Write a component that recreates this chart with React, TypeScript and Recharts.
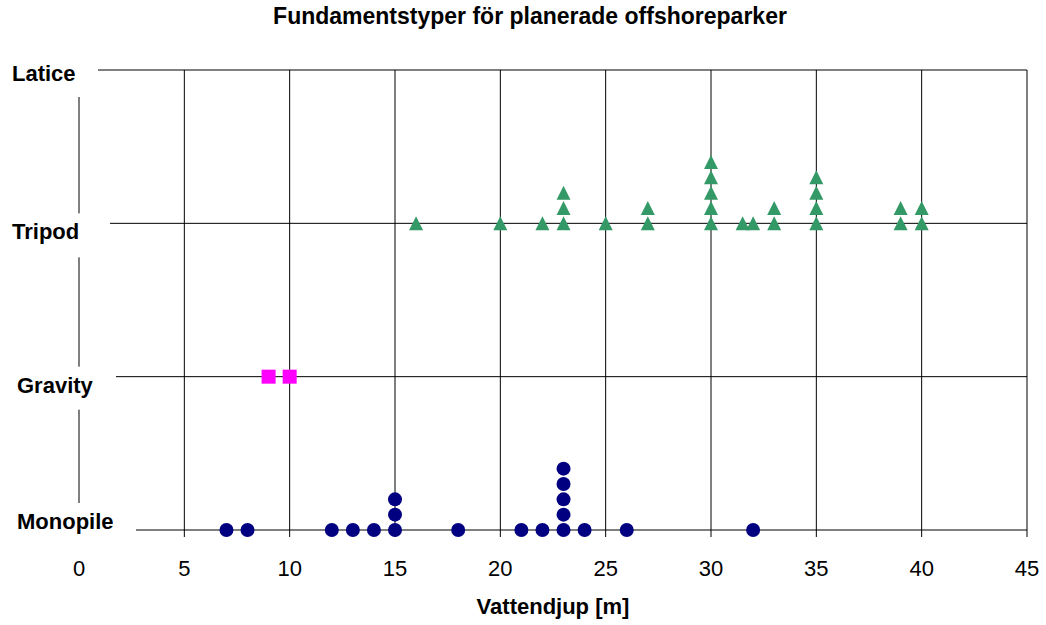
import { ScatterChart, Scatter, XAxis, YAxis, CartesianGrid } from 'recharts';

// Foundation type levels on the y axis (bottom to top)
const levelLabels = ['Monopile', 'Gravity', 'Tripod', 'Latice'];
const levelTicks = [0, 1, 2, 3];
const depthTicks = [0, 5, 10, 15, 20, 25, 30, 35, 40, 45];

// Water depth per planned park; repeated depths are stacked 0.1 apart
const monopileDepth = [7, 8, 12, 13, 14, 15, 15, 15, 18, 21, 22, 23, 23, 23, 23, 23, 24, 26, 32];
const monopileLevel = [0, 0, 0, 0, 0, 0, 0.1, 0.2, 0, 0, 0, 0, 0.1, 0.2, 0.3, 0.4, 0, 0, 0];

const gravityDepth = [9, 10];
const gravityLevel = [1, 1];

const tripodDepth = [16, 20, 22, 23, 23, 23, 25, 27, 27, 30, 30, 30, 30, 30, 31.5, 32, 33, 33, 35, 35, 35, 35, 39, 39, 40, 40];
const tripodLevel = [2, 2, 2, 2, 2.1, 2.2, 2, 2, 2.1, 2, 2.1, 2.2, 2.3, 2.4, 2, 2, 2, 2.1, 2, 2.1, 2.2, 2.3, 2, 2.1, 2, 2.1];

const toPoints = (depth: number[], level: number[]) =>
  depth.map((d, i) => ({ depth: d, level: level[i] }));

const FONT = '"Liberation Sans", Arial, Helvetica, sans-serif';

// label placement for each level: text x, baseline offset, white box around it
const labelLayout: Record<number, { x: number; dy: number; top: number; bottom: number; right: number }> = {
  3: { x: 12, dy: 11, top: -23, bottom: 27, right: 98 },
  2: { x: 12, dy: 16, top: -10, bottom: 34, right: 110 },
  1: { x: 17, dy: 16, top: -10, bottom: 33, right: 116 },
  0: { x: 17, dy: -1, top: -27, bottom: 15, right: 136 },
};

const LevelTick = (props: any) => {
  const { y, payload } = props;
  const v = payload.value as number;
  const l = labelLayout[v];
  if (!l) return null;
  return (
    <g>
      <rect x={0} y={y + l.top} width={l.right} height={l.bottom - l.top} fill="#fff" />
      <text x={l.x} y={y + l.dy} fontFamily={FONT} fontSize={22} fontWeight="bold" fill="#000">
        {levelLabels[v]}
      </text>
    </g>
  );
};

const DepthTick = (props: any) => {
  const { x, payload } = props;
  return (
    <text x={x} y={576} textAnchor="middle" fontFamily={FONT} fontSize={22} fill="#000">
      {payload.value}
    </text>
  );
};

const Dot = (props: any) => <circle cx={props.cx} cy={props.cy} r={7} fill="#000080" />;
const Square = (props: any) => (
  <rect x={props.cx - 7} y={props.cy - 7} width={14} height={14} fill="#ff00ff" />
);
const Triangle = (props: any) => {
  const { cx, cy } = props;
  return (
    <polygon points={`${cx},${cy - 7} ${cx + 7},${cy + 7} ${cx - 7},${cy + 7}`} fill="#339966" />
  );
};

export default function App() {
  return (
    <div style={{ position: 'absolute', left: 0, top: 0, width: 1046, height: 625, background: '#fff' }}>
      <div
        style={{
          position: 'absolute',
          left: 0,
          width: 1060,
          top: 3,
          textAlign: 'center',
          fontFamily: FONT,
          fontWeight: 'bold',
          fontSize: 23,
          lineHeight: '26px',
          color: '#000',
        }}
      >
        Fundamentstyper för planerade offshoreparker
      </div>
      <ScatterChart
        width={1046}
        height={625}
        margin={{ top: 70, right: 19, bottom: 0, left: 78 }}
        style={{ position: 'absolute', left: 0, top: 0 }}
      >
        <CartesianGrid stroke="#000" strokeWidth={1} />
        <XAxis
          type="number"
          dataKey="depth"
          domain={[0, 45]}
          ticks={depthTicks}
          interval={0}
          height={95}
          axisLine={false}
          tickSize={7}
          tickLine={{ stroke: '#000' }}
          tick={<DepthTick />}
          label={{
            value: 'Vattendjup [m]',
            position: 'insideBottom',
            offset: 11,
            fill: '#000',
            fontSize: 22,
            fontWeight: 'bold',
            fontFamily: FONT,
          }}
        />
        <YAxis
          type="number"
          dataKey="level"
          domain={[0, 3]}
          ticks={levelTicks}
          interval={0}
          width={1}
          axisLine={false}
          tickLine={false}
          tick={<LevelTick />}
        />
        <Scatter data={toPoints(monopileDepth, monopileLevel)} shape={<Dot />} isAnimationActive={false} />
        <Scatter data={toPoints(gravityDepth, gravityLevel)} shape={<Square />} isAnimationActive={false} />
        <Scatter data={toPoints(tripodDepth, tripodLevel)} shape={<Triangle />} isAnimationActive={false} />
      </ScatterChart>
    </div>
  );
}
